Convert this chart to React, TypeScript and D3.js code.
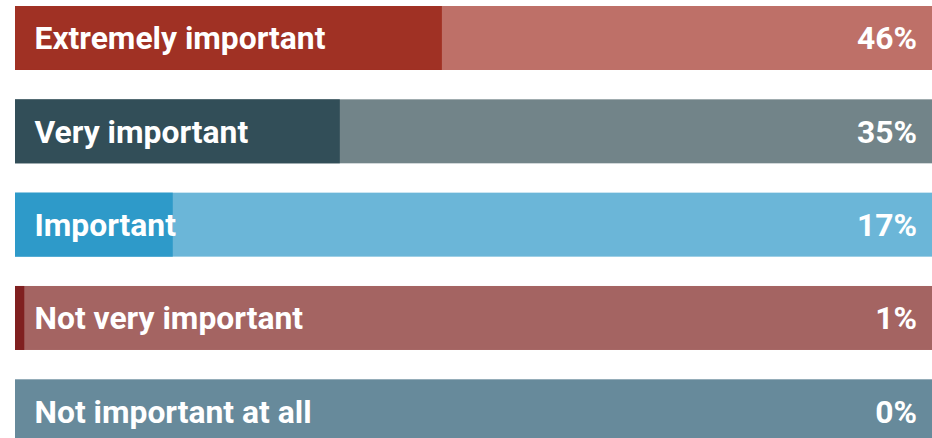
import React from "react";
import * as d3 from "d3";

const categories = ["Extremely important", "Very important", "Important", "Not very important", "Not important at all"];
const values = [46, 35, 17, 1, 0];
const valueLabels = ["46%", "35%", "17%", "1%", "0%"];
const darkColors = ["#A03124", "#324E58", "#2E9AC9", "#802020", "#4E7488"];
const lightColors = ["#BE7068", "#728489", "#6BB6D8", "#A46462", "#678A9B"];

const W = 932;
const H = 438;

export default function App() {
  const x = d3.scaleLinear().domain([0, 100]).range([15, 943]);
  const y = d3.scaleBand<string>().domain(categories).range([6, 443.3]).paddingInner(0.3143).paddingOuter(0);
  const bh = y.bandwidth();
  return (
    <svg width={W} height={H} style={{ position: "absolute", left: 0, top: 0 }} fontFamily="Roboto, sans-serif">
      {categories.map((c, i) => {
        const y0 = y(c)!;
        return (
          <g key={c}>
            <rect x={x(0)} y={y0} width={x(100) - x(0)} height={bh} fill={lightColors[i]} />
            <rect x={x(0)} y={y0} width={x(values[i]) - x(0)} height={bh} fill={darkColors[i]} />
            <text x={34.5} y={y0 + bh / 2 + 11.3} fill="#fff" fontSize={31.8} fontWeight={700}>{c}</text>
            <text x={917} y={y0 + bh / 2 + 11.3} fill="#fff" fontSize={31.8} fontWeight={700} textAnchor="end">{valueLabels[i]}</text>
          </g>
        );
      })}
    </svg>
  );
}
